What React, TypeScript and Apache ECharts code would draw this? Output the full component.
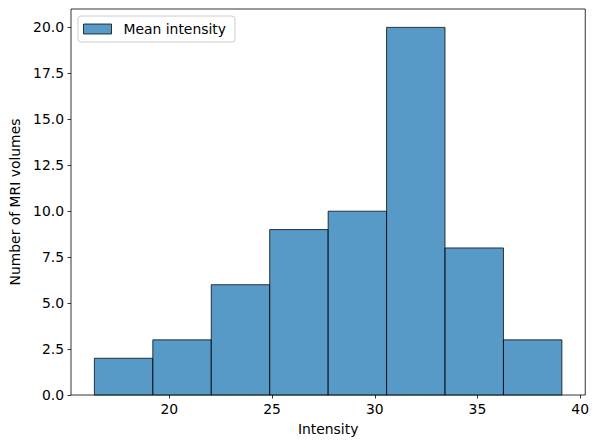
import React, { useEffect, useRef } from "react";
import * as echarts from "echarts";

// Histogram bin edges (intensity) and counts per bin
const binEdges: number[] = [16.35, 19.195, 22.04, 24.885, 27.73, 30.575, 33.42, 36.265, 39.11];
const binCounts: number[] = [2, 3, 6, 9, 10, 20, 8, 3];
const xTicks: number[] = [20, 25, 30, 35, 40];
const yTicks: number[] = [0, 2.5, 5, 7.5, 10, 12.5, 15, 17.5, 20];
const seriesName = "Mean intensity";

const FONT = "DejaVu Sans";
const FILL = "rgba(31,119,180,0.75)";
const EDGE = "rgba(0,0,0,0.75)";

export default function App() {
  const ref = useRef<HTMLDivElement>(null);

  useEffect(() => {
    document.body.style.margin = "0";
    if (!ref.current) return;
    const chart = echarts.init(ref.current, null, { renderer: "svg" });

    const data = binCounts.map((c, i) => [binEdges[i], binEdges[i + 1], c]);
    const span = binEdges[binEdges.length - 1] - binEdges[0];
    const xMin = binEdges[0] - span * 0.05;
    const xMax = binEdges[binEdges.length - 1] + span * 0.05;
    const yMax = Math.max(...binCounts) * 1.05;

    chart.setOption({
      animation: false,
      backgroundColor: "#ffffff",
      textStyle: { fontFamily: FONT },
      grid: {
        left: 71,
        right: 3.5,
        top: 9,
        bottom: 45,
        show: true,
        borderColor: "#000",
        borderWidth: 0.8,
        backgroundColor: "transparent",
      },
      legend: {
        left: 78,
        top: 16,
        padding: [6, 9, 6, 5],
        itemWidth: 28,
        itemHeight: 10,
        borderColor: "#cccccc",
        borderWidth: 1,
        borderRadius: 3,
        backgroundColor: "#ffffff",
        icon: "rect",
        itemStyle: { color: FILL, borderColor: EDGE, borderWidth: 1 },
        textStyle: { fontFamily: FONT, fontSize: 13.9, color: "#000", padding: [0, 0, 0, 7] },
        data: [seriesName],
      },
      xAxis: {
        type: "value",
        min: xMin,
        max: xMax,
        name: "Intensity",
        nameLocation: "middle",
        nameGap: 27,
        nameTextStyle: { fontFamily: FONT, fontSize: 13.9, color: "#000" },
        axisLine: { show: false },
        axisTick: {
          show: true,
          length: 3.5,
          customValues: xTicks,
          lineStyle: { color: "#000", width: 0.8 },
        },
        axisLabel: {
          customValues: xTicks,
          margin: 7,
          fontFamily: FONT,
          fontSize: 13.9,
          color: "#000",
        },
        splitLine: { show: false },
      },
      yAxis: {
        type: "value",
        min: 0,
        max: yMax,
        name: "Number of MRI volumes",
        nameLocation: "middle",
        nameGap: 48,
        nameTextStyle: { fontFamily: FONT, fontSize: 13.9, color: "#000" },
        axisLine: { show: false },
        axisTick: {
          show: true,
          length: 3.5,
          customValues: yTicks,
          lineStyle: { color: "#000", width: 0.8 },
        },
        axisLabel: {
          customValues: yTicks,
          margin: 7,
          fontFamily: FONT,
          fontSize: 13.9,
          color: "#000",
          formatter: (v: number) => v.toFixed(1),
        },
        splitLine: { show: false },
      },
      series: [
        {
          type: "custom",
          name: seriesName,
          itemStyle: { color: FILL, borderColor: EDGE, borderWidth: 1 },
          encode: { x: [0, 1], y: 2 },
          data,
          renderItem: (params: any, api: any) => {
            const p0 = api.coord([api.value(0), api.value(2)]);
            const p1 = api.coord([api.value(1), 0]);
            return {
              type: "rect",
              shape: { x: p0[0], y: p0[1], width: p1[0] - p0[0], height: p1[1] - p0[1] },
              style: { fill: FILL, stroke: EDGE, lineWidth: 1 },
            };
          },
        },
      ],
    });

    return () => chart.dispose();
  }, []);

  return <div ref={ref} style={{ width: 592, height: 441 }} />;
}
